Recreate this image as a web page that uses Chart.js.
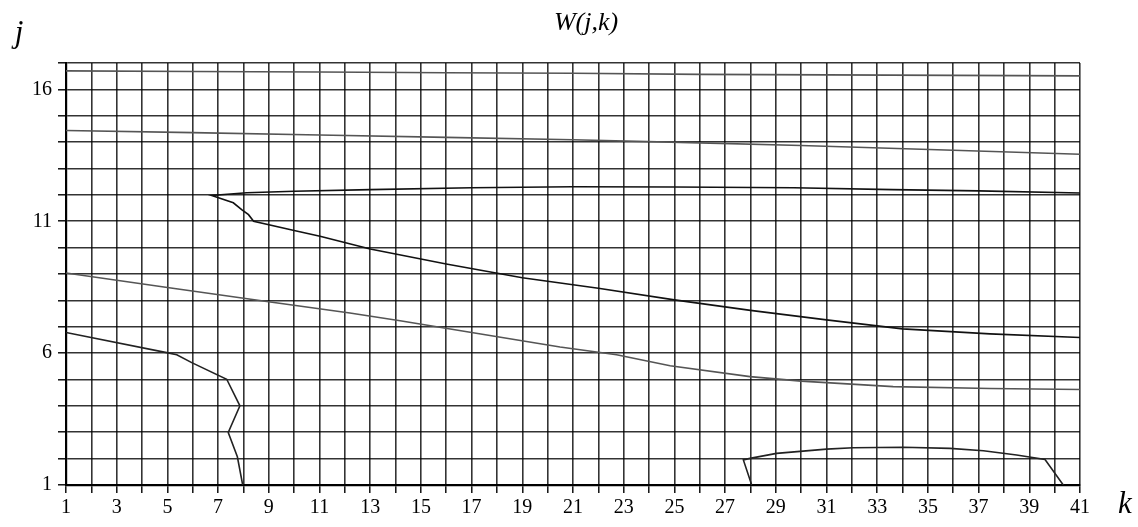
<!DOCTYPE html>
<html>
<head>
<meta charset="utf-8">
<script src="https://cdn.jsdelivr.net/npm/chart.js@4/dist/chart.umd.min.js"></script>
<style>
  html, body { margin: 0; padding: 0; background: #fff; }
  #wrap { width: 1138px; height: 527px; position: relative; }
</style>
</head>
<body>
<div id="wrap"><canvas id="c" width="1138" height="527"></canvas></div>
<script>
// Axis ranges and labelled ticks
const kMin = 1, kMax = 41;
const jMin = 1, jMax = 17;
const kTickLabels = [1, 3, 5, 7, 9, 11, 13, 15, 17, 19, 21, 23, 25, 27, 29, 31, 33, 35, 37, 39, 41];
const jTickLabels = [1, 6, 11, 16];

// Level curves of W(j,k): each curve is a list of k positions and matching j values
const c1K = [1, 6, 11, 16, 21, 26, 31, 36, 41];
const c1J = [16.70, 16.68, 16.66, 16.63, 16.61, 16.57, 16.55, 16.53, 16.51];

const c2K = [1, 6, 11, 16, 21, 26, 30, 36, 41];
const c2J = [14.44, 14.36, 14.27, 14.18, 14.09, 13.97, 13.87, 13.69, 13.54];

// closed loop: lower branch from the right edge to the tip, then upper branch back to the right edge
const c3K = [41, 37.45, 34, 31, 28, 25, 22, 19, 16, 13, 11.02, 10, 8.4, 8.2, 7.93, 7.6, 6.75,
             8.13, 10, 13, 17, 21, 25, 29.7, 33.6, 37, 41];
const c3J = [6.59, 6.73, 6.92, 7.26, 7.62, 8.02, 8.46, 8.86, 9.38, 9.95, 10.43, 10.65, 11.0, 11.25, 11.44, 11.70, 11.98,
             12.08, 12.14, 12.20, 12.27, 12.31, 12.30, 12.27, 12.20, 12.15, 12.07];

const c4K = [1, 5, 8.92, 12.2, 14.18, 17, 20.49, 22.72, 24.83, 27.98, 30, 33.63, 37.45, 41];
const c4J = [9.04, 8.49, 7.96, 7.52, 7.23, 6.78, 6.23, 5.94, 5.52, 5.11, 4.94, 4.73, 4.66, 4.62];

const c5K = [1, 4.97, 5.37, 5.96, 7.34, 7.86, 7.40, 7.76, 7.97];
const c5J = [6.78, 6.02, 5.94, 5.64, 5.01, 4.00, 2.99, 2.07, 1.00];

const c6K = [28.05, 27.72, 27.98, 29.03, 31.0, 32.05, 34.03, 35.87, 37.19, 38.5, 39.62, 40.34];
const c6J = [1.00, 1.95, 2.01, 2.20, 2.36, 2.41, 2.43, 2.39, 2.30, 2.14, 1.97, 1.00];

function pts(ks, js) { return ks.map((k, i) => ({ x: k, y: js[i] })); }

function curve(ks, js, color) {
  return {
    data: pts(ks, js),
    showLine: true,
    borderColor: color,
    borderWidth: 1.6,
    pointRadius: 0,
    tension: 0,
    fill: false
  };
}

const serif = '"Liberation Serif", "DejaVu Serif", serif';

// Title and axis letters drawn on the canvas
const textPlugin = {
  id: 'axisText',
  afterDraw(chart) {
    const ctx = chart.ctx;
    ctx.save();
    ctx.fillStyle = '#000';
    ctx.textBaseline = 'middle';
    ctx.textAlign = 'center';
    ctx.font = 'italic 26px ' + serif;
    ctx.fillText('W(j,k)', 586, 23);
    ctx.font = 'italic 31px ' + serif;
    ctx.fillText('j', 19, 34);
    ctx.fillText('k', 1125, 505);
    ctx.restore();
  }
};

new Chart(document.getElementById('c'), {
  type: 'scatter',
  data: {
    datasets: [
      curve(c1K, c1J, '#555'),
      curve(c2K, c2J, '#555'),
      curve(c3K, c3J, '#111'),
      curve(c4K, c4J, '#555'),
      curve(c5K, c5J, '#222'),
      curve(c6K, c6J, '#222')
    ]
  },
  options: {
    responsive: false,
    animation: false,
    layout: { padding: { top: 63, right: 58, left: 0, bottom: 0 } },
    plugins: { legend: { display: false }, tooltip: { enabled: false }, title: { display: false } },
    scales: {
      x: {
        type: 'linear',
        min: kMin, max: kMax,
        afterFit(s) { s.height = 42; },
        border: { color: '#000', width: 2.2 },
        grid: { color: 'rgba(0,0,0,0.8)', lineWidth: 1.6, tickLength: 8, tickColor: '#000', tickWidth: 1.4 },
        ticks: {
          stepSize: 1,
          autoSkip: false,
          maxRotation: 0,
          padding: 3,
          color: '#000',
          font: { family: serif, size: 20 },
          callback: v => kTickLabels.includes(v) ? String(v) : ''
        }
      },
      y: {
        type: 'linear',
        min: jMin, max: jMax,
        afterFit(s) { s.width = 66; },
        border: { color: '#000', width: 2.2 },
        grid: { color: 'rgba(0,0,0,0.8)', lineWidth: 1.6, tickLength: 8, tickColor: '#000', tickWidth: 1.4 },
        ticks: {
          stepSize: 1,
          autoSkip: false,
          padding: 6,
          color: '#000',
          font: { family: serif, size: 20 },
          callback: v => jTickLabels.includes(v) ? String(v) : ''
        }
      }
    }
  },
  plugins: [textPlugin]
});
</script>
</body>
</html>
